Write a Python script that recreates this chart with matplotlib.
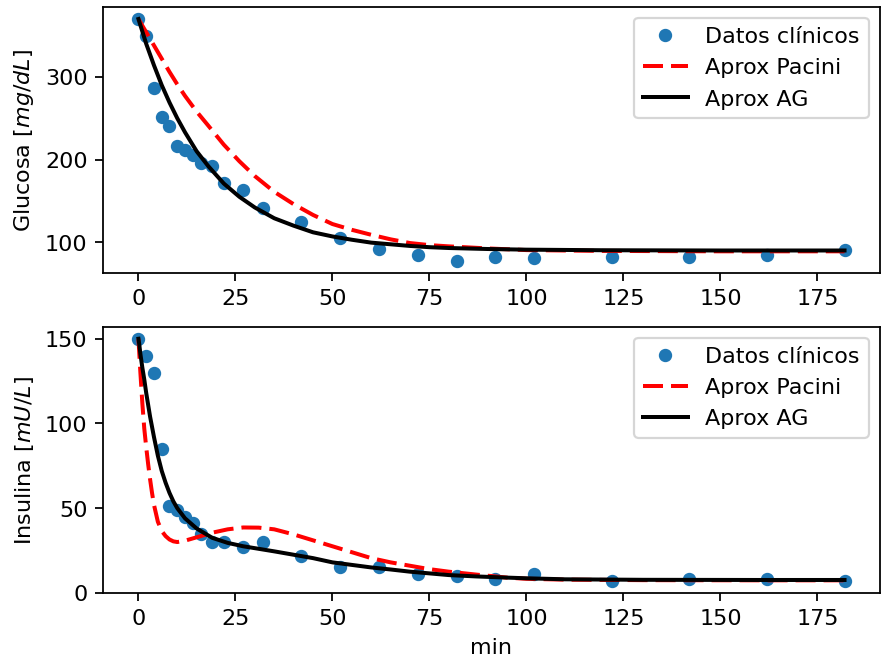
import numpy as np
import matplotlib
matplotlib.use("Agg")
import matplotlib.pyplot as plt

# datos clinicos (FSIGT)
t_datos = [0, 2, 4, 6, 8, 10, 12, 14, 16, 19, 22, 27, 32, 42, 52, 62, 72, 82,
           92, 102, 122, 142, 162, 182]
glucosa = [370, 350, 287, 251, 240, 216, 211, 205, 196, 192, 172, 163, 142, 124,
           105, 92, 84, 77, 82, 81, 82, 82, 85, 90]
insulina = [150, 140, 130, 85, 51, 49, 45, 41, 35, 30, 30, 27, 30, 22, 15, 15,
            11, 10, 8, 11, 7, 8, 8, 7]

# curvas de ajuste (glucosa)
t_g = [0, 2, 4, 6, 8, 10, 12, 15, 18, 22, 26, 30, 35, 40, 45, 50, 55, 60, 65,
       70, 75, 80, 90, 100, 120, 150, 182]
g_pacini = [370, 354, 338, 322, 306, 291, 277, 258, 241, 218, 198, 180, 161,
            146, 133, 122, 115, 109, 103.5, 99, 96.5, 95, 92.5, 90.5, 89.5, 89, 89]
g_ag = [370, 340, 314, 290, 269, 250, 233, 210, 192, 171, 155, 142, 129, 120,
        112, 107, 103, 99.5, 97.5, 95.5, 94, 93, 91.8, 91, 90.3, 90, 90]

# curvas de ajuste (insulina)
t_i = [0, 0.25, 0.5, 0.75, 1, 1.5, 2, 2.5, 3, 3.5, 4, 5, 6, 7, 8, 9, 10, 12, 15,
       19, 23, 27, 31, 35, 40, 45, 50, 55, 60, 65, 70, 75, 80, 87, 95, 100, 110,
       130, 160, 182]
i_pacini = [150, 140, 130, 121, 112, 97, 86, 76, 67, 59, 52, 42, 36.5, 33.5,
            31.5, 30.4, 30, 30.8, 32.8, 35.5, 37.5, 38.6, 38.5, 37.5, 34.5, 31,
            27.5, 24, 20.5, 18, 16, 14, 12.5, 10.8, 9, 8.3, 7.8, 7.5, 7.4, 7.4]
i_ag = [150, 146, 141, 137, 133, 126, 118, 111, 104, 98, 92, 81, 72, 65, 59,
        54, 50, 44, 38, 32.5, 29.5, 27.5, 26, 24.5, 22.5, 20.5, 18, 16.5, 15,
        13.8, 12.5, 11.5, 10.5, 9.7, 9, 8.6, 8, 7.7, 7.6, 7.6]

fig, (ax1, ax2) = plt.subplots(2, 1, figsize=(5.51, 4.14), dpi=160)
fig.subplots_adjust(left=0.117, right=0.998, top=0.989, bottom=0.104, hspace=0.2)

ax1.plot(t_datos, glucosa, 'o', ms=5, label='Datos clínicos')
ax1.plot(t_g, g_pacini, 'r--', lw=1.8, dashes=(5, 2), label='Aprox Pacini')
ax1.plot(t_g, g_ag, 'k-', lw=1.8, label='Aprox AG')
ax1.set_ylabel('Glucosa [$mg/dL$]')
ax1.legend(loc='upper right')

ax2.plot(t_datos, insulina, 'o', ms=5, label='Datos clínicos')
ax2.plot(t_i, i_pacini, 'r--', lw=1.8, dashes=(5, 2), label='Aprox Pacini')
ax2.plot(t_i, i_ag, 'k-', lw=1.8, label='Aprox AG')
ax2.set_ylabel('Insulina [$mU/L$]')
ax2.set_xlabel('min')
ax2.legend(loc='upper right')

fig.savefig('out.png')
